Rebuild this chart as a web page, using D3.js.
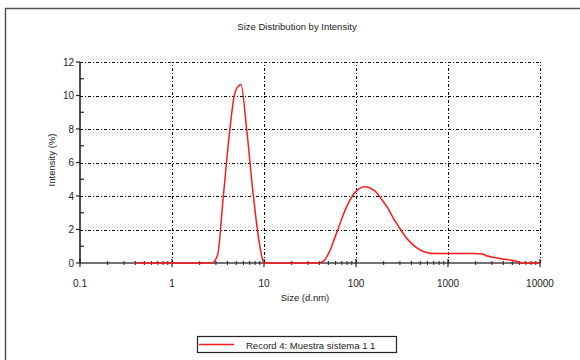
<!DOCTYPE html>
<html>
<head>
<meta charset="utf-8">
<script src="https://cdn.jsdelivr.net/npm/d3@7"></script>
<style>
  body { margin: 0; background: #fff; }
  text { font-family: "Liberation Sans", Arial, sans-serif; fill: #222; }
</style>
</head>
<body>
<svg id="chart"></svg>
<script>
// size bins (d.nm) and intensity (%)
var sizes = [0.4, 0.4632, 0.5365, 0.6213, 0.7195, 0.8332, 0.9649, 1.117, 1.294, 1.499,
  1.736, 2.010, 2.328, 2.696, 3.122, 3.615, 4.187, 4.849, 5.615, 6.503,
  7.531, 8.721, 10.10, 11.70, 13.54, 15.69, 18.17, 21.04, 24.36, 28.21,
  32.67, 37.84, 43.82, 50.75, 58.77, 68.06, 78.82, 91.28, 105.7, 122.4,
  141.8, 164.2, 190.1, 220.2, 255.0, 295.3, 342.0, 396.1, 458.7, 531.2,
  615.1, 712.4, 825.0, 955.4, 1106, 1281, 1484, 1718, 1990, 2305,
  2669, 3091, 3580, 4145, 4801, 5560, 6439, 7456, 8635, 10000];
var intensity = [0, 0, 0, 0, 0, 0, 0, 0, 0, 0,
  0, 0, 0, 0, 0.45, 4.0, 7.6, 10.2, 10.65, 7.9,
  4.4, 1.5, 0, 0, 0, 0, 0, 0, 0, 0,
  0, 0, 0.1, 0.6, 1.5, 2.45, 3.35, 4.0, 4.4, 4.55,
  4.48, 4.25, 3.8, 3.3, 2.67, 2.12, 1.6, 1.2, 0.9, 0.7,
  0.6, 0.57, 0.57, 0.57, 0.57, 0.57, 0.57, 0.57, 0.56, 0.55,
  0.42, 0.34, 0.28, 0.22, 0.18, 0.1, 0, 0, 0, 0];

var xTicks = [0.1, 1, 10, 100, 1000, 10000];
var xTickLabels = ['0.1', '1', '10', '100', '1000', '10000'];
var yTicks = [0, 2, 4, 6, 8, 10, 12];
var yMinor = [1, 3, 5, 7, 9, 11];
var seriesName = 'Record 4: Muestra sistema 1 1';

var W = 580, H = 360;
var svg = d3.select('#chart').attr('width', W).attr('height', H);

// outer frame
svg.append('rect')
  .attr('x', 5.5).attr('y', 8.5)
  .attr('width', 600).attr('height', 400)
  .attr('fill', 'none').attr('stroke', '#555').attr('stroke-width', 1.5);

var x = d3.scaleLog().domain([0.1, 10000]).range([80, 540]);
var y = d3.scaleLinear().domain([0, 12]).range([263, 62]);

// minor x ticks 2..9 per decade
var xMinor = [];
xTicks.slice(0, -1).forEach(function(t) {
  for (var k = 2; k <= 9; k++) xMinor.push(t * k);
});

// grid
var grid = svg.append('g').attr('stroke', '#000').attr('stroke-width', 1)
  .attr('stroke-dasharray', '3,2,1,2');
grid.selectAll('line.h').data(yTicks.slice(1)).enter().append('line')
  .attr('x1', x(0.1)).attr('x2', x(10000))
  .attr('y1', function(d) { return Math.round(y(d)) + 0.5; })
  .attr('y2', function(d) { return Math.round(y(d)) + 0.5; });
grid.selectAll('line.v').data(xTicks.slice(1)).enter().append('line')
  .attr('y1', y(0)).attr('y2', y(12))
  .attr('x1', function(d) { return Math.round(x(d)) + 0.5; })
  .attr('x2', function(d) { return Math.round(x(d)) + 0.5; });

// x axis
var gx = svg.append('g');
gx.append('line')
  .attr('x1', x(0.1)).attr('x2', x(10000)).attr('y1', y(0)).attr('y2', y(0))
  .attr('stroke', '#444').attr('stroke-width', 1.6);
gx.selectAll('line.minor').data(xMinor).enter().append('line')
  .attr('x1', function(d) { return x(d); }).attr('x2', function(d) { return x(d); })
  .attr('y1', y(0) - 2).attr('y2', y(0) + 2)
  .attr('stroke', '#222').attr('stroke-width', 1);
gx.selectAll('line.major').data(xTicks).enter().append('line')
  .attr('x1', function(d) { return x(d); }).attr('x2', function(d) { return x(d); })
  .attr('y1', y(0) - 4).attr('y2', y(0) + 4)
  .attr('stroke', '#222').attr('stroke-width', 1.2);
gx.selectAll('text').data(xTicks).enter().append('text')
  .attr('x', function(d) { return x(d); }).attr('y', 287)
  .attr('text-anchor', 'middle').attr('font-size', 10)
  .text(function(d, i) { return xTickLabels[i]; });

// y axis
var gy = svg.append('g');
gy.append('line')
  .attr('x1', x(0.1)).attr('x2', x(0.1)).attr('y1', y(0)).attr('y2', y(12))
  .attr('stroke', '#222').attr('stroke-width', 1.6);
gy.selectAll('line.major').data(yTicks).enter().append('line')
  .attr('x1', x(0.1) - 4).attr('x2', x(0.1))
  .attr('y1', function(d) { return y(d); }).attr('y2', function(d) { return y(d); })
  .attr('stroke', '#222').attr('stroke-width', 1.2);
gy.selectAll('line.minor').data(yMinor).enter().append('line')
  .attr('x1', x(0.1)).attr('x2', x(0.1) + 4)
  .attr('y1', function(d) { return y(d); }).attr('y2', function(d) { return y(d); })
  .attr('stroke', '#222').attr('stroke-width', 1.2);
gy.selectAll('text').data(yTicks).enter().append('text')
  .attr('x', 74).attr('y', function(d) { return y(d) + 3.5; })
  .attr('text-anchor', 'end').attr('font-size', 10)
  .text(function(d) { return d; });

// labels
svg.append('text').attr('x', 297).attr('y', 30)
  .attr('text-anchor', 'middle').attr('font-size', 9.5)
  .text('Size Distribution by Intensity');
svg.append('text').attr('x', 305).attr('y', 301)
  .attr('text-anchor', 'middle').attr('font-size', 9.5)
  .text('Size (d.nm)');
svg.append('text')
  .attr('transform', 'translate(55,160) rotate(-90)')
  .attr('text-anchor', 'middle').attr('font-size', 9.5)
  .text('Intensity (%)');

// series
var line = d3.line()
  .x(function(d) { return x(d[0]); })
  .y(function(d) { return y(d[1]); })
  .curve(d3.curveMonotoneX);
svg.append('path')
  .datum(sizes.map(function(s, i) { return [s, intensity[i]]; }))
  .attr('d', line)
  .attr('fill', 'none').attr('stroke', '#ff1a1a').attr('stroke-width', 1.5);

// legend
var lg = svg.append('g');
lg.append('rect').attr('x', 197.5).attr('y', 336.5).attr('width', 199).attr('height', 16)
  .attr('fill', '#fff').attr('stroke', '#222').attr('stroke-width', 1.2);
lg.append('line').attr('x1', 199).attr('x2', 234).attr('y1', 344.5).attr('y2', 344.5)
  .attr('stroke', '#ff1a1a').attr('stroke-width', 1.6);
lg.append('text').attr('x', 246).attr('y', 348.5).attr('font-size', 9.5)
  .text(seriesName);
</script>
</body>
</html>
